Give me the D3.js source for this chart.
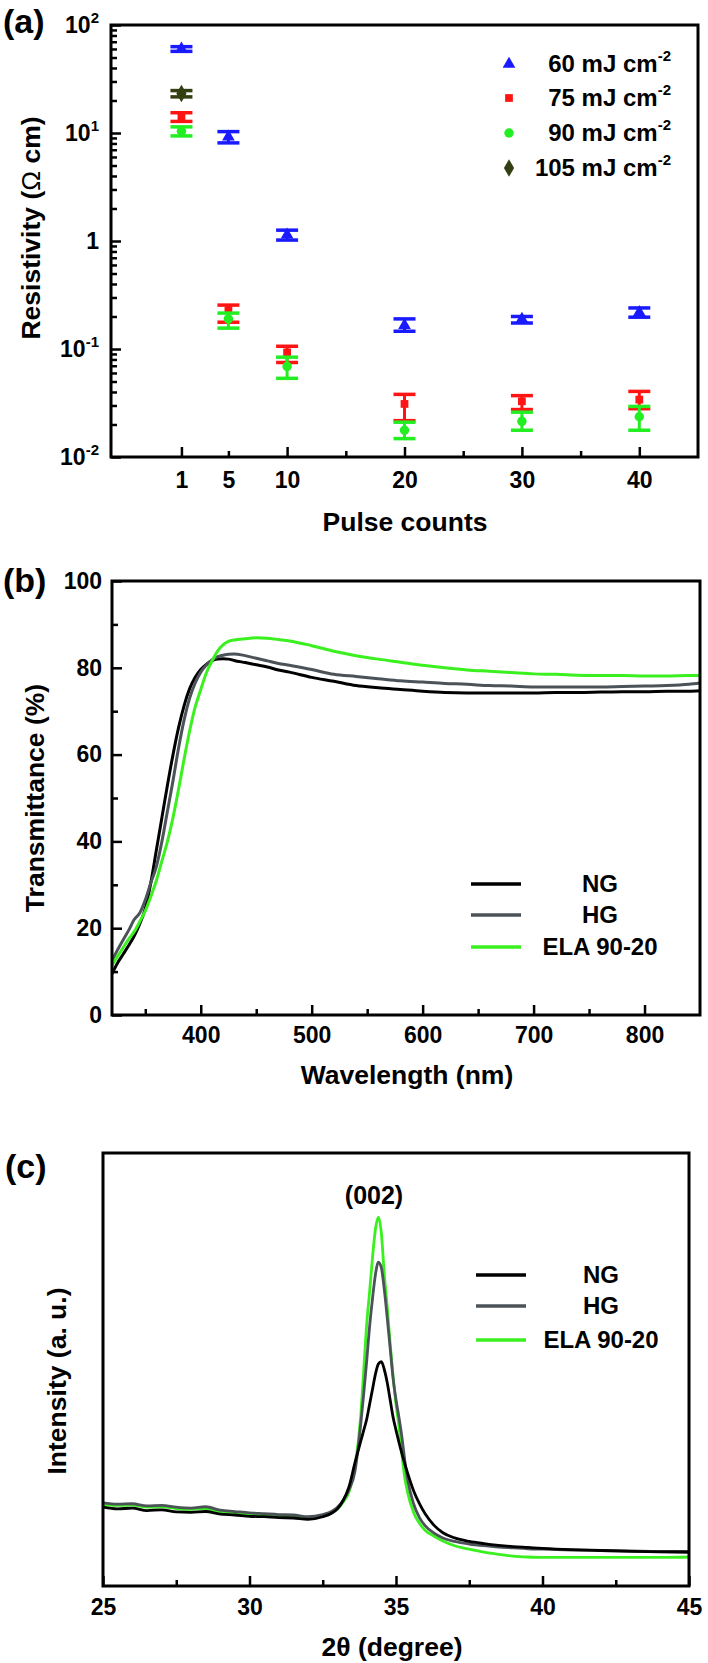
<!DOCTYPE html>
<html><head><meta charset="utf-8">
<script src="https://cdn.jsdelivr.net/npm/d3@7"></script>
<style>body{margin:0;background:#fff}svg{display:block}</style>
</head><body><svg id="c" width="708" height="1663"></svg>
<script>
// ---------- Panel (a) data ----------
const pulseCounts = [1, 5, 10, 20, 30, 40];
const res60   = [60, 9.2, 1.14, 0.166, 0.189, 0.218];
const res60Lo = [57, 8.1, 1.02, 0.146, 0.174, 0.197];
const res60Hi = [63, 10.3, 1.26, 0.19, 0.20, 0.24];
const res75   = [14, 0.229, 0.093, 0.031, 0.0328, 0.034];
const res75Lo = [12.8, 0.177, 0.075, 0.0217, 0.0275, 0.028];
const res75Hi = [15.4, 0.255, 0.106, 0.038, 0.037, 0.0405];
const res90   = [10.4, 0.19, 0.069, 0.0177, 0.0214, 0.0236];
const res90Lo = [9.4, 0.156, 0.0535, 0.0148, 0.0177, 0.0177];
const res90Hi = [11.4, 0.215, 0.084, 0.021, 0.026, 0.0294];
const pulse105 = [1];
const res105   = [23.2];
const res105Lo = [21.6];
const res105Hi = [24.7];
const legendA = ["60 mJ cm", "75 mJ cm", "90 mJ cm", "105 mJ cm"];
const yTicksA = [0.01, 0.1, 1, 10, 100];
const yTickLabelsA = [["10","-2"],["10","-1"],["1",""],["10","1"],["10","2"]];

// ---------- Panel (b) data ----------
const wavelength = [320,325,330,335,340,345,350,355,360,365,370,375,380,385,390,395,400,405,410,415,420,425,430,440,450,460,470,480,500,520,540,560,580,600,620,640,660,680,700,720,740,760,780,800,820,840,850];
const transNG  = [9.5,12,14,16,18.2,21,24.5,30.5,38,45.5,53,60,66.2,71.3,75.2,77.8,79.6,80.8,81.6,82,82.1,82,81.7,81.2,80.7,80.2,79.5,79,77.8,76.9,75.9,75.4,75,74.6,74.3,74.2,74.2,74.2,74.2,74.3,74.3,74.4,74.5,74.5,74.6,74.6,74.7];
const transHG  = [12.5,15,17.3,19.5,22,23.5,26.5,30.5,34.2,40,47,54,61.5,68,73,76.5,79,80.6,81.8,82.5,82.9,83.1,83.2,82.8,82.2,81.6,81,80.6,79.6,78.5,78,77.5,77,76.7,76.4,76.2,75.9,75.8,75.6,75.6,75.6,75.6,75.7,75.8,75.9,76.2,76.5];
const transELA = [11.5,13.5,15.5,17.5,19.2,21.5,24,27.3,31,35.5,40,45.5,52,59,65.5,71,75,78.8,81.5,83.8,85.3,86.1,86.4,86.7,86.9,86.8,86.5,86.2,85.1,83.8,82.8,82,81.3,80.6,80,79.5,79.2,78.9,78.6,78.5,78.3,78.2,78.2,78.1,78.1,78.2,78.2];

// ---------- Panel (c) data ----------
const twoTheta = [25,25.5,26,26.5,27,27.5,28,28.5,29,29.5,30,30.5,31,31.5,32,32.5,32.8,33,33.2,33.4,33.6,33.8,33.9,34,34.1,34.2,34.3,34.4,34.5,34.6,34.7,34.8,34.9,35,35.1,35.2,35.3,35.4,35.6,35.8,36,36.3,36.6,37,37.5,38,38.5,39,39.5,40,41,42,43,44,45];
const intNG  = [18.2,17.8,18,17.4,17.6,17.1,17,17.2,16.6,16.4,16.1,16,15.8,15.7,15.4,16,16.8,17.8,19.8,23,28.5,33.5,36,38.5,42,45.5,49,51.3,51.8,50,47,43,39,36,33.2,30.6,28.2,26,22,19,16.6,14,12.3,11.1,10.3,9.8,9.4,9.1,8.9,8.7,8.4,8.2,8,7.9,7.8];
const intHG  = [19.2,18.9,19,18.5,18.6,18.2,18,18.3,17.5,17.2,16.9,16.7,16.5,16.4,16,16.5,17.2,18.2,19.8,22.3,26.5,37.6,44.5,52,60,66.5,72,74.8,73.5,68.5,62,55,48,43,39,34.5,29,24.5,19,15.8,13.9,12.2,11.1,10.3,9.7,9.3,9,8.8,8.6,8.5,8.3,8.2,8.1,8,8];
const intELA = [18.8,18.6,18.7,18.2,18.3,17.9,17.7,17.9,17.2,16.9,16.6,16.4,16.2,16,15.7,16.2,16.9,17.8,19.4,21.8,27.5,39.5,50,60.5,68,76,82.5,85.2,81.5,72,64.5,56,48.5,42,37,30.5,25,21.5,17,14.5,12.8,11.5,10.4,9.3,8.5,7.8,7.3,6.9,6.7,6.6,6.6,6.6,6.6,6.6,6.7];
const lineLegend = ["NG", "HG", "ELA 90-20"];

// ---------- drawing ----------
const FONT = '"Liberation Sans", Arial, Helvetica, sans-serif';
const TICK = 23, LEG = 24, TITLE = 26.5, LETTER = 34;
const svg = d3.select("#c");
svg.append("rect").attr("width", 708).attr("height", 1663).attr("fill", "#fff");

function txt(x, y, s, size, anchor) {
  return svg.append("text").attr("x", x).attr("y", y).text(s)
    .attr("font-family", FONT).attr("font-weight", "bold")
    .attr("font-size", size).attr("text-anchor", anchor || "start").attr("fill", "#000");
}
function vtxt(x, y, s, size) {
  return svg.append("text").attr("transform", `translate(${x},${y}) rotate(-90)`).text(s)
    .attr("font-family", FONT).attr("font-weight", "bold")
    .attr("font-size", size).attr("text-anchor", "middle").attr("fill", "#000");
}
function frame(b) {
  svg.append("rect").attr("x", b.l).attr("y", b.t).attr("width", b.r - b.l).attr("height", b.b - b.t)
    .attr("fill", "none").attr("stroke", "#000").attr("stroke-width", 3);
}
function styleAxis(g, showText) {
  g.select(".domain").remove();
  g.selectAll(".tick line").attr("stroke", "#000").attr("stroke-width", 2.5);
  g.selectAll(".tick text").attr("font-family", FONT).attr("font-weight", "bold")
    .attr("font-size", TICK).attr("fill", "#000");
  if (!showText) g.selectAll(".tick text").remove();
}

// ===== Panel (a) =====
const A = {l: 111, r: 698, t: 25, b: 457};
const xa = d3.scaleLinear().domain([-5, 45]).range([A.l, A.r]);
const ya = d3.scaleLog().domain([0.01, 100]).range([A.b, A.t]);

const minorLog = [];
[0.01, 0.1, 1, 10].forEach(d => { for (let k = 2; k <= 9; k++) minorLog.push(d * k); });
styleAxis(svg.append("g").attr("transform", `translate(${A.l},0)`)
  .call(d3.axisLeft(ya).tickValues(yTicksA).tickSize(-10).tickFormat("")), false);
styleAxis(svg.append("g").attr("transform", `translate(${A.l},0)`)
  .call(d3.axisLeft(ya).tickValues(minorLog).tickSize(-6).tickFormat("")), false);
styleAxis(svg.append("g").attr("transform", `translate(0,${A.b})`)
  .call(d3.axisBottom(xa).tickValues([1, 10, 20, 30, 40]).tickSize(-10).tickFormat("")), false);
styleAxis(svg.append("g").attr("transform", `translate(0,${A.b})`)
  .call(d3.axisBottom(xa).tickValues([5, 15, 25, 35]).tickSize(-6).tickFormat("")), false);
styleAxis(svg.append("g").attr("transform", `translate(0,${A.b})`)
  .call(d3.axisBottom(xa).tickValues(pulseCounts).tickSize(0).tickPadding(15).tickFormat(d3.format("d"))), true);

yTicksA.forEach((v, i) => {
  const t = txt(99, ya(v) + 8, yTickLabelsA[i][0], TICK, "end");
  if (yTickLabelsA[i][1]) t.append("tspan").attr("dy", -10).attr("font-size", 15).text(yTickLabelsA[i][1]);
});
frame(A);

const seriesA = [
  {x: pulseCounts, v: res60, lo: res60Lo, hi: res60Hi, c: "#1a1aff", sym: d3.symbolTriangle, size: 70},
  {x: pulseCounts, v: res75, lo: res75Lo, hi: res75Hi, c: "#ff1414", sym: d3.symbolSquare, size: 60},
  {x: pulseCounts, v: res90, lo: res90Lo, hi: res90Hi, c: "#22ee22", sym: d3.symbolCircle, size: 70},
  {x: pulse105, v: res105, lo: res105Lo, hi: res105Hi, c: "#333f12", sym: d3.symbolDiamond, size: 90}
];
seriesA.forEach(s => {
  const g = svg.append("g");
  s.x.forEach((xv, i) => {
    const cx = xa(xv);
    g.append("line").attr("x1", cx).attr("x2", cx).attr("y1", ya(s.lo[i])).attr("y2", ya(s.hi[i]))
      .attr("stroke", s.c).attr("stroke-width", 3);
    [s.lo[i], s.hi[i]].forEach(e => g.append("line").attr("x1", cx - 11).attr("x2", cx + 11)
      .attr("y1", ya(e)).attr("y2", ya(e)).attr("stroke", s.c).attr("stroke-width", 3.5));
    g.append("path").attr("d", d3.symbol(s.sym, s.size)()).attr("fill", s.c)
      .attr("transform", `translate(${cx},${ya(s.v[i])})`);
  });
});
const legY = [64, 98, 133, 168];
seriesA.forEach((s, i) => {
  svg.append("path").attr("d", d3.symbol(s.sym, s.size)()).attr("fill", s.c)
    .attr("transform", `translate(509,${legY[i]})`);
  const t = txt(671, legY[i] + 8, legendA[i], LEG, "end");
  t.append("tspan").attr("dy", -11).attr("font-size", 15).text("-2");
});
txt(405, 531, "Pulse counts", TITLE, "middle");
const yl = vtxt(40, 228, "Resistivity (", TITLE);
yl.append("tspan").attr("font-weight", "normal").text("Ω");
yl.append("tspan").text(" cm)");
txt(3, 33, "(a)", LETTER);

// ===== Panel (b) =====
const B = {l: 112, r: 700, t: 581, b: 1015};
const xb = d3.scaleLinear().domain([320, 850]).range([B.l, B.r]);
const yb = d3.scaleLinear().domain([0, 100]).range([B.b, B.t]);
styleAxis(svg.append("g").attr("transform", `translate(${B.l},0)`)
  .call(d3.axisLeft(yb).tickValues([0, 20, 40, 60, 80, 100]).tickSize(-10).tickPadding(10)), true);
styleAxis(svg.append("g").attr("transform", `translate(${B.l},0)`)
  .call(d3.axisLeft(yb).tickValues([10, 30, 50, 70, 90]).tickSize(-6).tickFormat("")), false);
styleAxis(svg.append("g").attr("transform", `translate(0,${B.b})`)
  .call(d3.axisBottom(xb).tickValues([400, 500, 600, 700, 800]).tickSize(-10).tickPadding(12)), true);
styleAxis(svg.append("g").attr("transform", `translate(0,${B.b})`)
  .call(d3.axisBottom(xb).tickValues([350, 450, 550, 650, 750]).tickSize(-6).tickFormat("")), false);

const lineColors = ["#000000", "#4b5258", "#3af01e"];
const seriesB = [transNG, transHG, transELA];
const lineB = d3.line().curve(d3.curveMonotoneX);
seriesB.forEach((vals, k) => {
  svg.append("path").attr("d", lineB(wavelength.map((w, i) => [xb(w), yb(vals[i])])))
    .attr("fill", "none").attr("stroke", lineColors[k]).attr("stroke-width", 3);
});
frame(B);
const legBY = [884, 915, 947];
lineLegend.forEach((n, i) => {
  svg.append("line").attr("x1", 471).attr("x2", 521).attr("y1", legBY[i]).attr("y2", legBY[i])
    .attr("stroke", lineColors[i]).attr("stroke-width", 3.5);
  txt(600, legBY[i] + 8, n, LEG, "middle");
});
txt(407, 1084, "Wavelength (nm)", TITLE, "middle");
vtxt(44, 798, "Transmittance (%)", TITLE);
txt(3, 592, "(b)", LETTER);

// ===== Panel (c) =====
const C = {l: 103, r: 689, t: 1153, b: 1586};
const xc = d3.scaleLinear().domain([25, 45]).range([C.l, C.r]);
const yc = d3.scaleLinear().domain([0, 100]).range([C.b, C.t]);
styleAxis(svg.append("g").attr("transform", `translate(0,${C.b})`)
  .call(d3.axisBottom(xc).tickValues([25, 30, 35, 40, 45]).tickSize(-10).tickPadding(13)), true);
styleAxis(svg.append("g").attr("transform", `translate(0,${C.b})`)
  .call(d3.axisBottom(xc).tickValues([27.5, 32.5, 37.5, 42.5]).tickSize(-6).tickFormat("")), false);
const seriesC = [intELA, intHG, intNG];
const colC = [lineColors[2], lineColors[1], lineColors[0]];
const lineC = d3.line().curve(d3.curveMonotoneX);
seriesC.forEach((vals, k) => {
  svg.append("path").attr("d", lineC(twoTheta.map((t, i) => [xc(t), yc(vals[i])])))
    .attr("fill", "none").attr("stroke", colC[k]).attr("stroke-width", 2.8);
});
frame(C);
const legCY = [1275, 1306, 1340];
lineLegend.forEach((n, i) => {
  svg.append("line").attr("x1", 476).attr("x2", 526).attr("y1", legCY[i]).attr("y2", legCY[i])
    .attr("stroke", lineColors[i]).attr("stroke-width", 3.5);
  txt(601, legCY[i] + 8, n, LEG, "middle");
});
txt(374, 1204, "(002)", 25, "middle");
txt(392, 1656, "2θ (degree)", TITLE, "middle");
vtxt(66, 1381, "Intensity (a. u.)", TITLE);
txt(5, 1178, "(c)", LETTER);
</script></body></html>
